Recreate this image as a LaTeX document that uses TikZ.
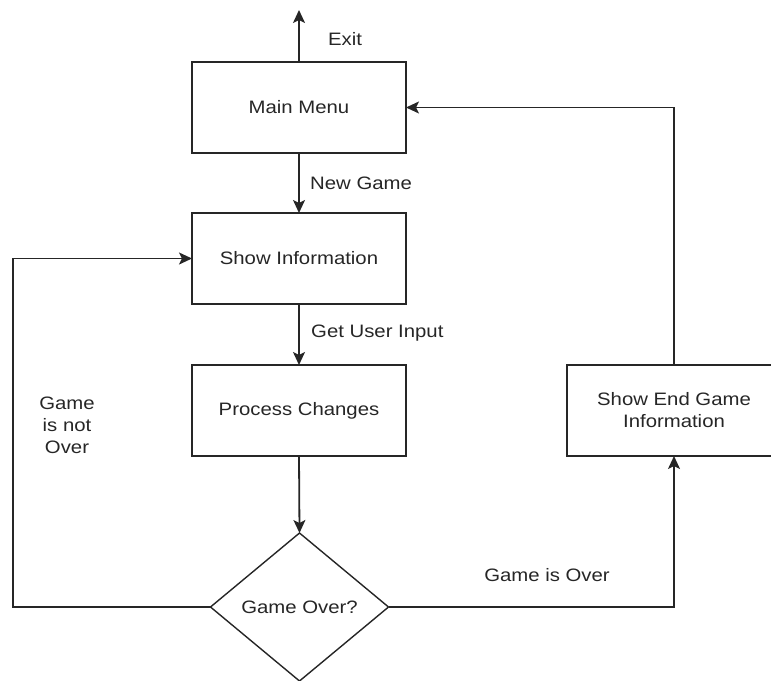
\documentclass[tikz,border=0pt]{standalone}
\usepackage{fontspec}
\setmainfont{Liberation Sans}[FakeStretch=1.13]
\usetikzlibrary{arrows.meta,shapes.geometric}
\definecolor{ink}{HTML}{262626}
\begin{document}
\begin{tikzpicture}[x=1pt,y=-1pt,
  every node/.style={text=ink, font=\fontsize{18}{22}\selectfont},
  box/.style={draw=ink, line width=1.8pt, minimum width=214pt, minimum height=91pt, inner sep=0pt, outer sep=0pt, align=center},
  dia/.style={diamond, draw=ink, line width=1.4pt, minimum width=178pt, minimum height=148pt, inner sep=0pt, outer sep=0pt},
  arr/.style={draw=ink, line width=1.8pt, -{Stealth[length=13pt,width=12pt,inset=3pt]}},
  lbl/.style={inner sep=0pt}]
\useasboundingbox (0,0) rectangle (771,680);
\clip (0,0) rectangle (771,680);
\node[box] (menu) at (299,107.5) {Main Menu};
\node[box] (info) at (299,258.5) {Show Information};
\node[box] (proc) at (299,410.5) {Process Changes};
\node[box] (endg) at (674,410.5) {Show End Game\\Information};
\node[dia] (dec) at (299.5,607) {Game Over?};
\coordinate (exit) at (299,10);
\coordinate (lc) at (13,607);
\draw[arr] (menu.north) -- (exit);
\draw[arr] (menu.south) -- (info.north);
\draw[arr] (info.south) -- (proc.north);
\draw[arr] (proc.south) -- (dec.north);
\draw[arr] (dec.west) -- (lc) |- (info.west);
\draw[arr] (dec.east) -| (endg.south);
\draw[arr] (endg.north) |- (menu.east);
\node[lbl] (lexit) at (345,39) {Exit};
\node[lbl, anchor=west] (lnew) at (310,183) {New Game};
\node[lbl, anchor=west] (lget) at (311,333) {Get User Input};
\node[lbl, align=center] (lnot) at (67,425) {Game\\is not\\Over};
\node[lbl] (lover) at (547,575) {Game is Over};
\end{tikzpicture}
\end{document}
